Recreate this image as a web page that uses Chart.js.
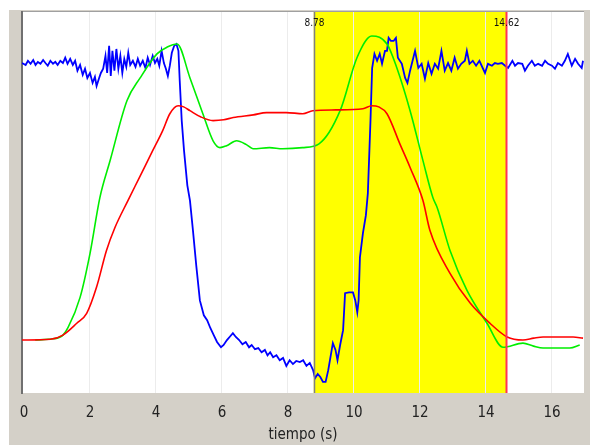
<!DOCTYPE html>
<html>
<head>
<meta charset="utf-8">
<script src="https://cdn.jsdelivr.net/npm/chart.js@4.4.0/dist/chart.umd.min.js"></script>
<style>
  html, body { margin: 0; padding: 0; background: #ffffff; }
  #wrap { width: 592px; height: 445px; position: relative; }
</style>
</head>
<body>
<div id="wrap"><canvas id="chart"></canvas></div>
<script>
const xTicks = [0, 2, 4, 6, 8, 10, 12, 14, 16];
const markers = [8.78, 14.62];
const markerLabels = ['8.78', '14.62'];

const blueT = [-0.06, 0.05, 0.12, 0.2, 0.28, 0.35, 0.42, 0.5, 0.58, 0.65, 0.72, 0.8, 0.88, 0.95, 1.02, 1.1, 1.18, 1.25, 1.32, 1.4,
  1.48, 1.55, 1.62, 1.7, 1.78, 1.85, 1.92, 2.0, 2.08, 2.15, 2.2, 2.27, 2.33, 2.4, 2.47, 2.52, 2.58, 2.63, 2.68, 2.74,
  2.8, 2.86, 2.92, 2.98, 3.04, 3.1, 3.16, 3.22, 3.3, 3.38, 3.45, 3.52, 3.6, 3.68, 3.75, 3.82, 3.9, 3.97, 4.04, 4.1,
  4.17, 4.24, 4.3, 4.36, 4.42, 4.48, 4.55, 4.62, 4.68, 4.72, 4.78, 4.85, 4.95, 5.03, 5.12, 5.22, 5.33, 5.45, 5.55, 5.65,
  5.75, 5.85, 5.97, 6.05, 6.15, 6.25, 6.33, 6.42, 6.52, 6.62, 6.72, 6.82, 6.9, 7.0, 7.1, 7.2, 7.3, 7.38, 7.46, 7.55,
  7.65, 7.75, 7.85, 7.95, 8.05, 8.15, 8.25, 8.36, 8.46, 8.56, 8.66, 8.76, 8.82, 8.9, 8.98, 9.06, 9.14, 9.22, 9.36, 9.44,
  9.5, 9.58, 9.67, 9.73, 9.85, 9.97, 10.04, 10.1, 10.14, 10.18, 10.27, 10.36, 10.42, 10.5, 10.55, 10.62, 10.7, 10.78, 10.85, 10.94,
  11.0, 11.05, 11.12, 11.2, 11.27, 11.33, 11.45, 11.55, 11.62, 11.7, 11.85, 11.95, 12.05, 12.15, 12.25, 12.35, 12.45, 12.55, 12.65, 12.75,
  12.85, 12.95, 13.05, 13.15, 13.25, 13.36, 13.42, 13.5, 13.6, 13.7, 13.8, 13.97, 14.06, 14.18, 14.27, 14.36, 14.48, 14.58, 14.67, 14.8,
  14.88, 14.97, 15.1, 15.18, 15.27, 15.39, 15.48, 15.58, 15.7, 15.79, 15.88, 16.0, 16.09, 16.18, 16.3, 16.39, 16.48, 16.6, 16.7, 16.79,
  16.9, 16.94];
const blueV = [86.6, 86.1, 87.2, 86.4, 87.4, 86.1, 86.9, 86.4, 87.4, 86.6, 85.9, 87.2, 86.4, 86.9, 86.1, 87.2, 86.6, 88.0, 86.4, 87.7,
  86.1, 87.2, 84.6, 86.1, 83.5, 85.1, 82.7, 84.0, 81.4, 83.0, 80.6, 82.5, 84.0, 85.1, 88.5, 84.0, 91.1, 83.2, 89.8, 84.6,
  90.3, 85.1, 88.5, 84.0, 87.7, 85.6, 89.3, 86.1, 87.2, 85.6, 87.7, 85.9, 87.2, 85.3, 88.0, 86.1, 88.5, 86.6, 87.7, 85.9,
  89.8, 86.6, 85.1, 83.2, 85.9, 89.3, 91.1, 91.6, 89.8, 81.9, 71.5, 63.6, 54.5, 50.5, 42.7, 33.5, 24.3, 20.4, 19.1, 17.0,
  15.2, 13.4, 12.0, 12.6, 13.9, 14.9, 15.7, 14.7, 13.9, 12.8, 13.4, 12.0, 12.6, 11.5, 11.8, 10.7, 11.3, 9.9, 10.7, 9.4,
  9.9, 8.6, 9.2, 7.1, 8.6, 7.6, 8.4, 8.1, 8.6, 7.1, 7.9, 6.0, 3.9, 5.0, 4.2, 2.9, 2.9, 6.0, 13.1, 11.3,
  8.6, 12.6, 16.5, 26.2, 26.4, 26.4, 24.3, 21.2, 24.3, 35.6, 41.9, 46.6, 52.4, 71.5, 85.3, 89.0, 87.2, 89.0, 86.4, 89.8,
  89.8, 93.2, 92.4, 92.4, 93.2, 88.0, 86.4, 82.7, 81.4, 84.6, 89.8, 85.3, 86.4, 82.5, 86.6, 83.8, 86.4, 85.1, 89.8, 84.6,
  86.6, 84.6, 88.0, 85.1, 86.4, 87.2, 89.8, 86.4, 87.2, 85.9, 87.2, 84.0, 86.4, 85.9, 86.6, 86.4, 86.6, 85.9, 85.3, 87.2,
  85.9, 86.6, 86.4, 84.6, 85.9, 87.2, 85.9, 86.4, 85.9, 87.2, 86.4, 85.9, 85.1, 86.6, 85.9, 87.2, 89.0, 85.9, 87.7, 86.4,
  85.3, 87.2];

const greenT = [0.34, 0.74, 1.14, 1.34, 1.7, 2.0, 2.3, 2.61, 3.12, 3.52, 4.03, 4.34, 4.64, 5.03, 5.42, 5.73, 5.94, 6.14, 6.44, 6.74,
  6.94, 7.44, 7.84, 8.44, 8.94, 9.58, 10.09, 10.54, 11.0, 11.3, 11.7, 12.09, 12.39, 12.52, 12.91, 13.42, 14.03, 14.52, 15.12, 15.44,
  15.73, 16.54, 16.84];
const greenV = [13.9, 14.1, 14.9, 17.3, 25.1, 36.6, 51.3, 61.0, 76.7, 82.7, 89.0, 90.8, 91.6, 82.7, 73.3, 66.2, 64.4, 64.9, 66.2, 65.2,
  64.1, 64.4, 64.1, 64.4, 65.4, 74.1, 88.0, 93.7, 91.6, 85.3, 74.1, 61.0, 51.3, 48.7, 37.4, 27.0, 18.3, 12.0, 13.1, 12.3,
  11.8, 11.8, 12.6];

const redT = [-0.06, 0.8, 1.18, 1.6, 1.9, 2.2, 2.5, 2.76, 3.15, 3.5, 3.9, 4.2, 4.42, 4.67, 4.84, 5.03, 5.35, 5.73, 6.05, 6.34,
  6.95, 7.35, 7.95, 8.45, 8.75, 9.45, 10.27, 10.54, 10.75, 11.0, 11.39, 11.7, 12.09, 12.3, 12.91, 13.52, 14.12, 14.64, 15.12, 15.45,
  15.73, 16.64, 16.94];
const redV = [13.9, 14.1, 15.2, 18.3, 20.9, 27.8, 37.4, 43.5, 50.5, 56.6, 63.6, 68.8, 73.3, 75.4, 75.1, 74.1, 72.5, 71.5, 71.7, 72.3,
  73.0, 73.6, 73.6, 73.3, 74.1, 74.3, 74.6, 75.4, 75.1, 73.3, 65.4, 59.2, 50.5, 42.7, 31.4, 23.6, 18.3, 14.7, 13.9, 14.4,
  14.7, 14.7, 14.4];

const pts = (t, v) => t.map((x, i) => ({ x: x, y: v[i] }));
const FONT = '"DejaVu Sans Condensed", "Liberation Sans", sans-serif';

// gray frame, white plot, yellow selection band
const backdrop = {
  id: 'backdrop',
  beforeDraw(chart) {
    const { ctx, chartArea: a, scales: { x } } = chart;
    ctx.save();
    ctx.fillStyle = '#ffffff';
    ctx.fillRect(0, 0, chart.width, chart.height);
    ctx.fillStyle = '#d4d0c8';
    ctx.fillRect(9, 10, 581, chart.height - 10);
    ctx.fillStyle = '#ffffff';
    ctx.fillRect(a.left, a.top, a.right - a.left, a.bottom - a.top);
    ctx.fillStyle = '#ffff00';
    const x0 = x.getPixelForValue(markers[0]);
    const x1 = x.getPixelForValue(markers[1]);
    ctx.fillRect(x0, a.top, x1 - x0, a.bottom - a.top);
    ctx.strokeStyle = '#a0a0a0';
    ctx.lineWidth = 1;
    ctx.beginPath();
    ctx.moveTo(a.left, a.top - 0.5);
    ctx.lineTo(a.right, a.top - 0.5);
    ctx.stroke();
    ctx.restore();
  },
  afterDatasetsDraw(chart) {
    const { ctx, chartArea: a, scales: { x } } = chart;
    const colors = ['#808080', '#ff3355'];
    ctx.save();
    markers.forEach((m, i) => {
      const px = Math.round(x.getPixelForValue(m)) + 0.5;
      ctx.strokeStyle = colors[i];
      ctx.lineWidth = i === 0 ? 1.5 : 2;
      ctx.beginPath();
      ctx.moveTo(px, a.top);
      ctx.lineTo(px, a.bottom);
      ctx.stroke();
      ctx.fillStyle = '#111111';
      ctx.font = '10px ' + FONT;
      ctx.textAlign = 'center';
      ctx.textBaseline = 'alphabetic';
      ctx.fillText(markerLabels[i], px, a.top + 14);
    });
    ctx.restore();
  }
};

new Chart(document.getElementById('chart'), {
  type: 'line',
  data: {
    datasets: [
      { label: 'rojo', data: pts(redT, redV), borderColor: '#ff0000', borderWidth: 1.6, cubicInterpolationMode: 'monotone' },
      { label: 'verde', data: pts(greenT, greenV), borderColor: '#00ee00', borderWidth: 1.6, cubicInterpolationMode: 'monotone' },
      { label: 'azul', data: pts(blueT, blueV), borderColor: '#0000ff', borderWidth: 1.8 }
    ]
  },
  options: {
    responsive: true,
    maintainAspectRatio: false,
    animation: false,
    layout: { padding: { top: 12, right: 8, left: 0, bottom: 0 } },
    elements: { point: { radius: 0 }, line: { tension: 0 } },
    plugins: { legend: { display: false }, tooltip: { enabled: false } },
    scales: {
      x: {
        type: 'linear',
        min: -0.06,
        max: 16.97,
        afterBuildTicks: s => { s.ticks = xTicks.map(v => ({ value: v })); },
        afterFit: s => { s.height = 52; },
        border: { display: false },
        grid: {
          drawTicks: false,
          lineWidth: 1,
          color: c => (c.tick && c.tick.value === 0) ? 'rgba(0,0,0,0)' : '#ececec'
        },
        ticks: { padding: 11, color: '#222222', font: { family: FONT, size: 15 }, callback: v => v },
        title: { display: true, text: 'tiempo (s)', color: '#222222', font: { family: FONT, size: 15 }, padding: { top: 0, bottom: 1 } }
      },
      y: {
        min: 0,
        max: 100,
        afterFit: s => { s.width = 22; },
        grid: { display: false },
        border: { display: true, color: '#707070', width: 2 },
        ticks: { display: false }
      }
    }
  },
  plugins: [backdrop]
});
</script>
</body>
</html>
